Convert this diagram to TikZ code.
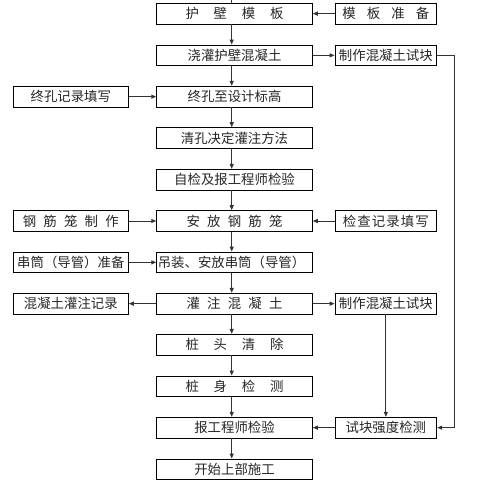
\documentclass[tikz,border=0pt]{standalone}
\usepackage{fontspec}
\newfontfamily\cjk{Noto Sans CJK SC}
\usetikzlibrary{arrows.meta}
\newcommand{\spr}[2]{\makebox[#1]{#2}}
\tikzset{
  box/.style={draw=black, line width=0.9pt, minimum height=20.7pt, inner sep=0pt,
     font=\cjk\fontsize{13.4}{14}\selectfont, text=black!85},
  cbox/.style={box, minimum width=155.6pt},
  lbox/.style={box, minimum width=115pt},
  rbox/.style={box, minimum width=101.7pt},
  arr/.style={draw=black!80, line width=1pt, -{Triangle[length=5pt,width=4pt]}},
  ln/.style={draw=black!75, line width=1pt},
}
\begin{document}
\begin{tikzpicture}[x=1pt,y=-1pt]
\useasboundingbox (0,0) rectangle (483,489);
\coordinate (vx) at (231.7,0);
\coordinate (top) at (231.7,0);
% center column
\node[cbox] (c1) at (234.5,13.65) {\spr{98pt}{护\hfill 壁\hfill 模\hfill 板}};
\node[cbox] (c2) at (234.5,55.35) {浇灌护壁混凝土};
\node[cbox] (c3) at (234.5,96.65) {终孔至设计标高};
\node[cbox] (c4) at (234.5,138) {清孔决定灌注方法};
\node[cbox] (c5) at (234.5,179.65) {自检及报工程师检验};
\node[cbox] (c6) at (234.5,221) {\spr{96pt}{安\hfill 放\hfill 钢\hfill 筋\hfill 笼}};
\node[cbox] (c7) at (234.5,262.35) {\hspace*{-3pt}吊装、安放串筒（导管）\hspace*{3pt}};
\node[cbox] (c8) at (234.5,303.65) {\spr{96pt}{灌\hfill 注\hfill 混\hfill 凝\hfill 土}};
\node[cbox] (c9) at (234.5,344.65) {\spr{98pt}{桩\hfill 头\hfill 清\hfill 除}};
\node[cbox] (c10) at (234.5,386.35) {\spr{98pt}{桩\hfill 身\hfill 检\hfill 测}};
\node[cbox] (c11) at (234.5,427.65) {报工程师检验};
\node[cbox] (c12) at (234.5,469.35) {开始上部施工};
% left column
\node[lbox] (l3) at (70.8,96.65) {终孔记录填写};
\node[lbox] (l6) at (70.8,221) {\spr{96pt}{钢\hfill 筋\hfill 笼\hfill 制\hfill 作}};
\node[lbox] (l7) at (70.8,262.35) {串筒（导管）准备};
\node[lbox] (l8) at (70.8,303.65) {混凝土灌注记录};
% right column
\node[rbox] (r1) at (385.85,13.65) {\spr{87pt}{模\hfill 板\hfill 准\hfill 备}};
\node[rbox] (r2) at (385.85,55.35) {制作混凝土试块};
\node[rbox] (r6) at (385.85,221) {\spr{86pt}{检\hfill 查\hfill 记\hfill 录\hfill 填\hfill 写}};
\node[rbox] (r8) at (385.85,303.65) {制作混凝土试块};
\node[rbox] (r11) at (385.85,427.65) {试块强度检测};
% vertical connectors
\draw[ln] (top) -- (c1.north -| vx);
\foreach \a/\b in {c1/c2,c2/c3,c3/c4,c4/c5,c5/c6,c6/c7,c7/c8,c8/c9,c9/c10,c10/c11,c11/c12}
  \draw[arr] (\a.south -| vx) -- (\b.north -| vx);
% horizontal connectors
\draw[arr] (r1) -- (c1);
\draw[arr] (c2) -- (r2);
\draw[arr] (l3) -- (c3);
\draw[arr] (l6) -- (c6);
\draw[arr] (r6) -- (c6);
\draw[arr] (l7) -- (c7);
\draw[arr] (c8) -- (l8);
\draw[arr] (c8) -- (r8);
\draw[arr] (r11) -- (c11);
% right loops
\coordinate (rx) at (454,0);
\draw[arr] (r2.east) -- (r2.east -| rx) -- (r11.east -| rx) -- (r11.east);
\draw[arr] (r8.south) -- (r11.north);
\end{tikzpicture}
\end{document}
